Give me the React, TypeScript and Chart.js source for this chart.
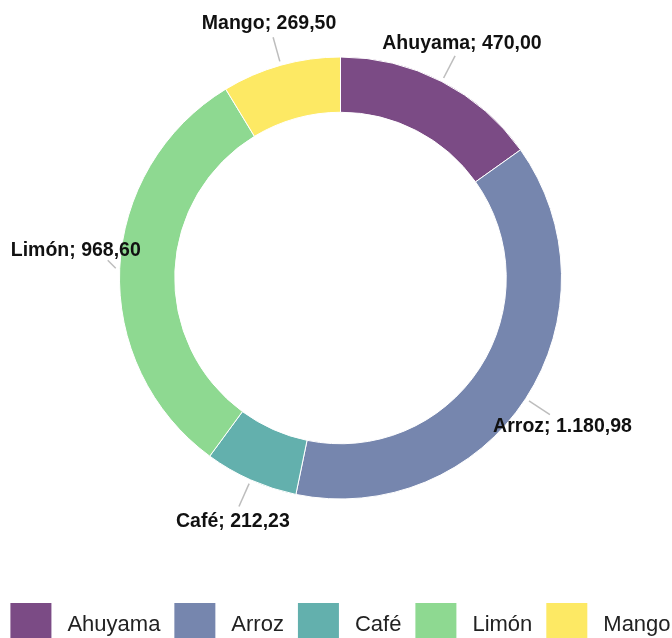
import React, { useEffect, useRef } from 'react';
import { Chart, registerables } from 'chart.js';

Chart.register(...registerables);

const categories = ['Ahuyama', 'Arroz', 'Café', 'Limón', 'Mango'];
const values = [470.0, 1180.98, 212.23, 968.6, 269.5];
const colors = ['#7b4b85', '#7686ae', '#63b0ad', '#8ed991', '#fde964'];

const fmt = (v: number) => {
  const [i, d] = v.toFixed(2).split('.');
  return i.replace(/\B(?=(\d{3})+(?!\d))/g, '.') + ',' + d;
};

const calloutPlugin = {
  id: 'callouts',
  afterDatasetsDraw(chart: any) {
    const ctx = chart.ctx;
    const meta = chart.getDatasetMeta(0);
    const ds = chart.data.datasets[0];
    ctx.save();
    ctx.font = 'bold 19.5px "Liberation Sans", Arial, sans-serif';
    ctx.textAlign = 'center';
    ctx.textBaseline = 'middle';
    meta.data.forEach((arc: any, i: number) => {
      const { x, y, startAngle, endAngle, outerRadius } = arc.getProps(
        ['x', 'y', 'startAngle', 'endAngle', 'outerRadius'],
        true
      );
      const mid = (startAngle + endAngle) / 2;
      const c = Math.cos(mid);
      const s = Math.sin(mid);
      const text = `${chart.data.labels[i]}; ${fmt(ds.data[i])}`;
      const w = ctx.measureText(text).width;
      const h = 14;
      const cx = x + c * (outerRadius + 44);
      let cy = y + s * (outerRadius + 44);
      const sx = x + c * (outerRadius + 4);
      const sy = y + s * (outerRadius + 4);
      let px = x + c * (outerRadius + 29);
      let py = y + s * (outerRadius + 29);
      if (Math.abs(px - cx) < w / 2 + 3 && Math.abs(py - cy) < h / 2 + 3) {
        if (Math.abs(s) < 0.5) {
          px = sx + 8 * Math.sign(c);
          py = sy + 8 * (s < 0 ? -1 : 1);
        }
        cy = s < 0 ? py - 4 - h / 2 : py + 4 + h / 2;
      }
      ctx.strokeStyle = '#bdbdbd';
      ctx.lineWidth = 1.5;
      ctx.beginPath();
      ctx.moveTo(sx, sy);
      ctx.lineTo(px, py);
      ctx.stroke();
      ctx.fillStyle = '#111';
      ctx.fillText(text, cx, cy + 1);
    });
    ctx.restore();
  },
};

const legendPlugin = {
  id: 'bottomLegend',
  afterDraw(chart: any) {
    const ctx = chart.ctx;
    const { left, right, bottom } = chart.chartArea;
    const labels: string[] = chart.data.labels;
    const bg: string[] = chart.data.datasets[0].backgroundColor;
    const box = 41;
    const gap = 16;
    const spacing = 14;
    ctx.save();
    ctx.font = '22px "Liberation Sans", Arial, sans-serif';
    ctx.textAlign = 'left';
    ctx.textBaseline = 'middle';
    const widths = labels.map((l) => ctx.measureText(l).width);
    const total = widths.reduce((a, w) => a + box + gap + w, 0) + spacing * (labels.length - 1);
    let x = (left + right) / 2 - total / 2;
    const top = bottom + 47;
    labels.forEach((l, i) => {
      ctx.fillStyle = bg[i];
      ctx.fillRect(x, top, box, box);
      ctx.fillStyle = '#222';
      ctx.fillText(l, x + box + gap, top + box / 2 + 1);
      x += box + gap + widths[i] + spacing;
    });
    ctx.restore();
  },
};

export default function App() {
  const ref = useRef<HTMLCanvasElement | null>(null);
  useEffect(() => {
    if (!ref.current) return;
    const chart = new Chart(ref.current, {
      type: 'doughnut',
      data: {
        labels: categories,
        datasets: [
          {
            data: values,
            backgroundColor: colors,
            borderColor: '#ffffff',
            borderWidth: 1,
            hoverOffset: 0,
            radius: 221,
            cutout: '75%',
          } as any,
        ],
      },
      options: {
        animation: false,
        responsive: false,
        maintainAspectRatio: false,
        devicePixelRatio: 1,
        layout: { padding: { left: 9, right: 0, top: 0, bottom: 82 } },
        plugins: {
          tooltip: { enabled: false },
          legend: { display: false },
        },
      } as any,
      plugins: [calloutPlugin, legendPlugin],
    });
    return () => chart.destroy();
  }, []);
  return (
    <div style={{ position: 'absolute', left: 0, top: 0, width: 672, height: 638, overflow: 'hidden', background: '#fff' }}>
      <canvas ref={ref} width={672} height={638} style={{ width: 672, height: 638 }} />
    </div>
  );
}
